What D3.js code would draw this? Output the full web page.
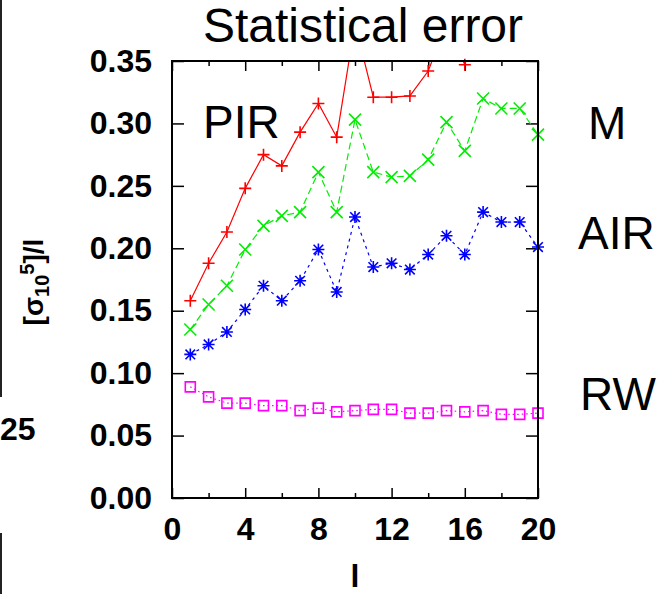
<!DOCTYPE html>
<html>
<head>
<meta charset="utf-8">
<script src="https://cdn.jsdelivr.net/npm/d3@7"></script>
<style>
  html, body { margin: 0; padding: 0; background: #fff; }
  svg { display: block; }
  text { font-family: "Liberation Sans", Arial, Helvetica, sans-serif; }
</style>
</head>
<body>
<svg id="chart" width="663" height="594"></svg>
<script>
// Relative statistical error of the four estimators versus l
const lValues   = [1, 2, 3, 4, 5, 6, 7, 8, 9, 10, 11, 12, 13, 14, 15, 16, 17, 18, 19, 20];
const pirValues = [0.158, 0.188, 0.213, 0.248, 0.275, 0.266, 0.293, 0.316, 0.289, 0.380,
                   0.321, 0.321, 0.322, 0.342, 0.380, 0.347, 0.400, 0.390, 0.390, 0.365];
const mValues   = [0.135, 0.155, 0.170, 0.199, 0.218, 0.226, 0.229, 0.261, 0.229, 0.303,
                   0.261, 0.257, 0.258, 0.271, 0.301, 0.278, 0.320, 0.312, 0.312, 0.291];
const airValues = [0.115, 0.123, 0.133, 0.151, 0.170, 0.158, 0.174, 0.199, 0.165, 0.225,
                   0.185, 0.188, 0.183, 0.195, 0.210, 0.195, 0.229, 0.221, 0.221, 0.201];
const rwValues  = [0.089, 0.081, 0.076, 0.076, 0.074, 0.074, 0.070, 0.072, 0.069, 0.070,
                   0.071, 0.071, 0.068, 0.068, 0.070, 0.069, 0.070, 0.067, 0.067, 0.068];

const xMajorTicks = [0, 4, 8, 12, 16, 20];
const xMinorTicks = [2, 6, 10, 14, 18];
const yTicks = [0.00, 0.05, 0.10, 0.15, 0.20, 0.25, 0.30, 0.35];

const seriesList = [
  { name: "PIR", values: pirValues, color: "#ff0000", dash: null,    marker: "plus" },
  { name: "M",   values: mValues,   color: "#00ee00", dash: "7,4",   marker: "cross" },
  { name: "AIR", values: airValues, color: "#0000ff", dash: "3,4",   marker: "star" },
  { name: "RW",  values: rwValues,  color: "#ff00ff", dash: "1.5,3", marker: "square" }
];

const seriesLabels = [
  { text: "PIR", x: 203, y: 138 },
  { text: "M",   x: 588, y: 139 },
  { text: "AIR", x: 578, y: 249 },
  { text: "RW",  x: 580, y: 410 }
];

const svg = d3.select("#chart");
const plotLeft = 172, plotRight = 538, plotTop = 61, plotBottom = 498;

const x = d3.scaleLinear().domain([0, 20]).range([plotLeft, plotRight]);
const y = d3.scaleLinear().domain([0, 0.35]).range([plotBottom, plotTop]);

// Fragments of the neighbouring panel at the left edge
svg.append("line").attr("x1", 1).attr("x2", 1).attr("y1", 0).attr("y2", 397)
  .attr("stroke", "#222").attr("stroke-width", 2);
svg.append("line").attr("x1", 1).attr("x2", 1).attr("y1", 533).attr("y2", 594)
  .attr("stroke", "#222").attr("stroke-width", 2);
svg.append("text").attr("x", 0).attr("y", 440)
  .attr("font-size", 32).attr("font-weight", "bold").text("25");

// Title
svg.append("text").attr("x", 363).attr("y", 42).attr("text-anchor", "middle")
  .attr("font-size", 48).text("Statistical error");

// Axes with inward ticks
function styleAxis(g) {
  g.select(".domain").remove();
  g.selectAll(".tick line").attr("stroke", "#000").attr("stroke-width", 1.5);
  g.selectAll(".tick text").attr("font-size", 32).attr("font-weight", "bold")
    .attr("fill", "#000").style("font-family", "'Liberation Sans', Arial, sans-serif");
}

svg.append("g").attr("transform", `translate(${plotLeft},0)`)
  .call(d3.axisLeft(y).tickValues(yTicks).tickFormat(d3.format(".2f"))
    .tickSizeInner(-12).tickSizeOuter(0).tickPadding(20))
  .call(styleAxis);
svg.append("g").attr("transform", `translate(${plotRight},0)`)
  .call(d3.axisRight(y).tickValues(yTicks).tickFormat("")
    .tickSizeInner(-12).tickSizeOuter(0))
  .call(styleAxis);

svg.append("g").attr("transform", `translate(0,${plotBottom})`)
  .call(d3.axisBottom(x).tickValues(xMajorTicks).tickFormat(d3.format("d"))
    .tickSizeInner(-10).tickSizeOuter(0).tickPadding(19))
  .call(styleAxis);
svg.append("g").attr("transform", `translate(0,${plotBottom})`)
  .call(d3.axisBottom(x).tickValues(xMinorTicks).tickFormat("")
    .tickSizeInner(-5).tickSizeOuter(0))
  .call(styleAxis);
svg.append("g").attr("transform", `translate(0,${plotTop})`)
  .call(d3.axisTop(x).tickValues(xMajorTicks).tickFormat("")
    .tickSizeInner(-10).tickSizeOuter(0))
  .call(styleAxis);
svg.append("g").attr("transform", `translate(0,${plotTop})`)
  .call(d3.axisTop(x).tickValues(xMinorTicks).tickFormat("")
    .tickSizeInner(-5).tickSizeOuter(0))
  .call(styleAxis);

// Axis titles
svg.append("text").attr("x", x(10)).attr("y", 587).attr("text-anchor", "middle")
  .attr("font-size", 32).attr("font-weight", "bold").text("l");

const yTitle = svg.append("text")
  .attr("transform", "translate(43,282) rotate(-90)")
  .attr("text-anchor", "middle").attr("font-size", 28).attr("font-weight", "bold");
yTitle.append("tspan").text("[σ");
yTitle.append("tspan").attr("font-size", 20).attr("dy", 6).text("10");
yTitle.append("tspan").attr("font-size", 20).attr("dy", -15).text("5");
yTitle.append("tspan").attr("dy", 9).text("]/l");

// Data lines, clipped to the plot frame
svg.append("clipPath").attr("id", "plot-clip")
  .append("rect").attr("x", plotLeft).attr("y", plotTop)
  .attr("width", plotRight - plotLeft).attr("height", plotBottom - plotTop);

const line = d3.line().x(d => x(d[0])).y(d => y(d[1]));
const dataGroup = svg.append("g").attr("clip-path", "url(#plot-clip)");
seriesList.forEach(s => {
  const pts = lValues.map((l, i) => [l, s.values[i]]);
  dataGroup.append("path").datum(pts)
    .attr("d", line).attr("fill", "none")
    .attr("stroke", s.color).attr("stroke-width", 1.2)
    .attr("stroke-dasharray", s.dash);
});

// Point markers (only points inside the y range are drawn)
const r = 6;
const markerPaths = {
  plus:   `M${-r},0H${r}M0,${-r}V${r}`,
  cross:  `M${-r},${-r}L${r},${r}M${-r},${r}L${r},${-r}`,
  star:   `M${-r},0H${r}M0,${-r}V${r}M${-r*0.8},${-r*0.8}L${r*0.8},${r*0.8}M${-r*0.8},${r*0.8}L${r*0.8},${-r*0.8}`,
  square: `M-5,-5H5V5H-5Z`
};
seriesList.forEach(s => {
  const pts = lValues.map((l, i) => [l, s.values[i]]).filter(d => d[1] <= 0.35);
  svg.append("g").selectAll("path").data(pts).join("path")
    .attr("transform", d => `translate(${x(d[0])},${y(d[1])})`)
    .attr("d", markerPaths[s.marker])
    .attr("fill", "none").attr("stroke", s.color).attr("stroke-width", 1.6);
});

// Frame
svg.append("rect").attr("x", plotLeft).attr("y", plotTop)
  .attr("width", plotRight - plotLeft).attr("height", plotBottom - plotTop)
  .attr("fill", "none").attr("stroke", "#000").attr("stroke-width", 2);

// Series names
svg.append("g").selectAll("text").data(seriesLabels).join("text")
  .attr("x", d => d.x).attr("y", d => d.y)
  .attr("font-size", 46).text(d => d.text);
</script>
</body>
</html>
